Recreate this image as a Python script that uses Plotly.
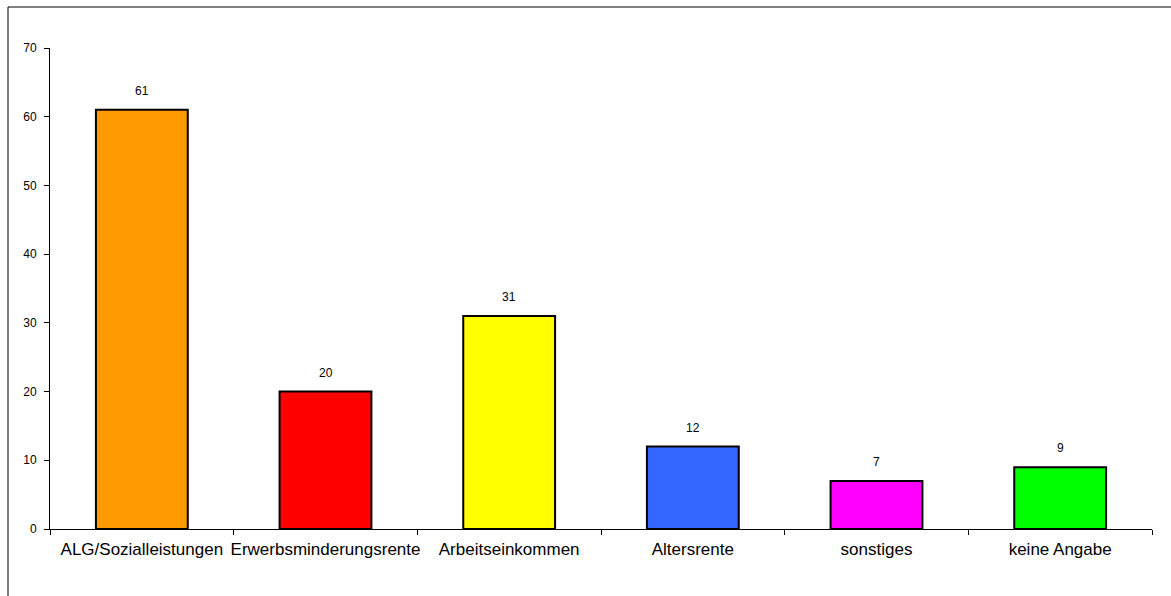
import plotly.graph_objects as go

categories = ["ALG/Sozialleistungen", "Erwerbsminderungsrente", "Arbeitseinkommen",
              "Altersrente", "sonstiges", "keine Angabe"]
values = [61, 20, 31, 12, 7, 9]
colors = ["#FF9900", "#FF0000", "#FFFF00", "#3366FF", "#FF00FF", "#00FF00"]
y_ticks = [0, 10, 20, 30, 40, 50, 60, 70]

FONT = "Liberation Sans, Arial, sans-serif"

fig = go.Figure(go.Bar(
    x=categories, y=values,
    marker=dict(color=colors, line=dict(color="black", width=2)),
    width=0.5,
    hoverinfo="x+y",
))

# value labels above each bar
for c, v in zip(categories, values):
    fig.add_annotation(x=c, y=v, text=str(v), showarrow=False,
                       yshift=19, yanchor="middle",
                       font=dict(family=FONT, size=12, color="black"))

# frame around the whole chart
fig.add_shape(type="rect", xref="paper", yref="paper",
              x0=(8 - 50) / 1102, x1=1.2, y0=-0.3, y1=(529 - 7) / 481,
              line=dict(color="black", width=1), fillcolor="rgba(0,0,0,0)",
              layer="below")

fig.update_layout(
    width=1171, height=596,
    margin=dict(l=50, r=19, t=48, b=67),
    paper_bgcolor="white", plot_bgcolor="white",
    showlegend=False,
    font=dict(family=FONT, color="black"),
    xaxis=dict(
        showline=True, linecolor="black", linewidth=1,
        ticks="outside", tickson="boundaries", ticklen=5, tickcolor="black",
        tickfont=dict(size=17, family=FONT), showgrid=False,
        tickangle=0, automargin=False,
        ticklabelstandoff=5,
    ),
    yaxis=dict(
        range=[0, 70], tickvals=y_ticks,
        showline=True, linecolor="black", linewidth=1,
        ticks="outside", ticklen=5, tickcolor="black",
        tickfont=dict(size=12, family=FONT), showgrid=False, zeroline=False,
        automargin=False,
        ticklabelstandoff=5,
    ),
)

fig.write_html("out.html")
